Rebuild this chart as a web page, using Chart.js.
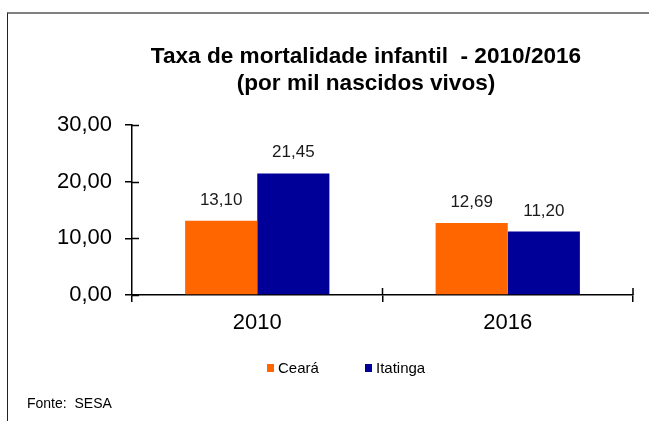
<!DOCTYPE html>
<html>
<head>
<meta charset="utf-8">
<script src="https://cdn.jsdelivr.net/npm/chart.js@4.4.1/dist/chart.umd.min.js"></script>
<style>
  html, body { margin: 0; padding: 0; background: #fff; }
  #wrap { position: relative; width: 649px; height: 421px; }
  #frame { position: absolute; left: 7px; top: 12px; right: -5px; bottom: -5px;
           border-left: 1px solid #222; border-top: 2px solid #808080; }
  canvas { position: absolute; left: 0; top: 0; }
</style>
</head>
<body>
<div id="wrap">
  <div id="frame"></div>
  <canvas id="chart" width="649" height="421"></canvas>
</div>
<script>
const years = ['2010', '2016'];
const ceara = [13.10, 12.69];
const itatinga = [21.45, 11.20];
const yTicks = [0, 10, 20, 30];
const titleLines = ['Taxa de mortalidade infantil  - 2010/2016', '(por mil nascidos vivos)'];
const source = 'Fonte:  SESA';

const fmt = v => v.toFixed(2).replace('.', ',');
const FONT = '"Liberation Sans", Arial, sans-serif';

// title, value labels, crossing ticks, legend and source
const extras = {
    id: 'extras',
    afterDraw(chart) {
        const ctx = chart.ctx;
        const xs = chart.scales.x, ys = chart.scales.y;
        ctx.save();
        ctx.fillStyle = '#000';
        ctx.textAlign = 'center';
        ctx.textBaseline = 'alphabetic';
        ctx.font = 'bold 22.6px ' + FONT;
        ctx.fillText(titleLines[0], 366, 63);
        ctx.fillText(titleLines[1], 366, 90);

        // inner half of the tick marks
        ctx.strokeStyle = '#000';
        ctx.lineWidth = 1.5;
        ctx.beginPath();
        yTicks.forEach(v => {
            const y = Math.round(ys.getPixelForValue(v)) + 0.5;
            ctx.moveTo(xs.left, y);
            ctx.lineTo(xs.left + 7, y);
        });
        ctx.moveTo(xs.left + (xs.right - xs.left) / 2, ys.bottom);
        ctx.lineTo(xs.left + (xs.right - xs.left) / 2, ys.bottom - 7);
        ctx.moveTo(xs.right, ys.bottom);
        ctx.lineTo(xs.right, ys.bottom - 7);
        ctx.stroke();

        // value labels
        ctx.font = '17px ' + FONT;
        ctx.fillStyle = '#1a1a1a';
        chart.data.datasets.forEach((ds, i) => {
            chart.getDatasetMeta(i).data.forEach((bar, j) => {
                ctx.fillText(fmt(ds.data[j]), bar.x, bar.y - 16);
            });
        });

        // legend
        ctx.font = '15px ' + FONT;
        ctx.textAlign = 'left';
        const legendX = [267, 365];
        chart.data.datasets.forEach((ds, i) => {
            ctx.fillStyle = ds.backgroundColor;
            ctx.fillRect(legendX[i], 364, 7, 8);
            ctx.fillStyle = '#000';
            ctx.fillText(ds.label, legendX[i] + 11, 373);
        });

        ctx.font = '14px ' + FONT;
        ctx.fillText(source, 27, 408);
        ctx.restore();
    }
};

new Chart(document.getElementById('chart'), {
    type: 'bar',
    data: {
        labels: years,
        datasets: [
            { label: 'Ceará', data: ceara, backgroundColor: '#FF6600' },
            { label: 'Itatinga', data: itatinga, backgroundColor: '#000099' }
        ]
    },
    options: {
        responsive: false,
        animation: false,
        events: [],
        layout: { padding: { left: 0, right: 16, top: 125, bottom: 0 } },
        datasets: { bar: { categoryPercentage: 0.576, barPercentage: 1 } },
        plugins: { legend: { display: false }, title: { display: false }, tooltip: { enabled: false } },
        scales: {
            x: {
                grid: { drawOnChartArea: false, drawTicks: true, tickLength: 7, color: '#000', lineWidth: 1.5 },
                border: { color: '#000', width: 1.5 },
                ticks: { color: '#000', font: { family: FONT, size: 22 }, padding: 8 },
                afterFit: s => { s.height = 421 - 295; }
            },
            y: {
                min: 0, max: 30,
                afterBuildTicks: s => { s.ticks = yTicks.map(v => ({ value: v })); },
                grid: { drawOnChartArea: false, drawTicks: true, tickLength: 7, color: '#000', lineWidth: 1.5 },
                border: { color: '#000', width: 1.5 },
                ticks: { color: '#000', font: { family: FONT, size: 22 }, padding: 13, callback: v => fmt(v) },
                afterFit: s => { s.width = 132; }
            }
        }
    },
    plugins: [extras]
});
</script>
</body>
</html>
